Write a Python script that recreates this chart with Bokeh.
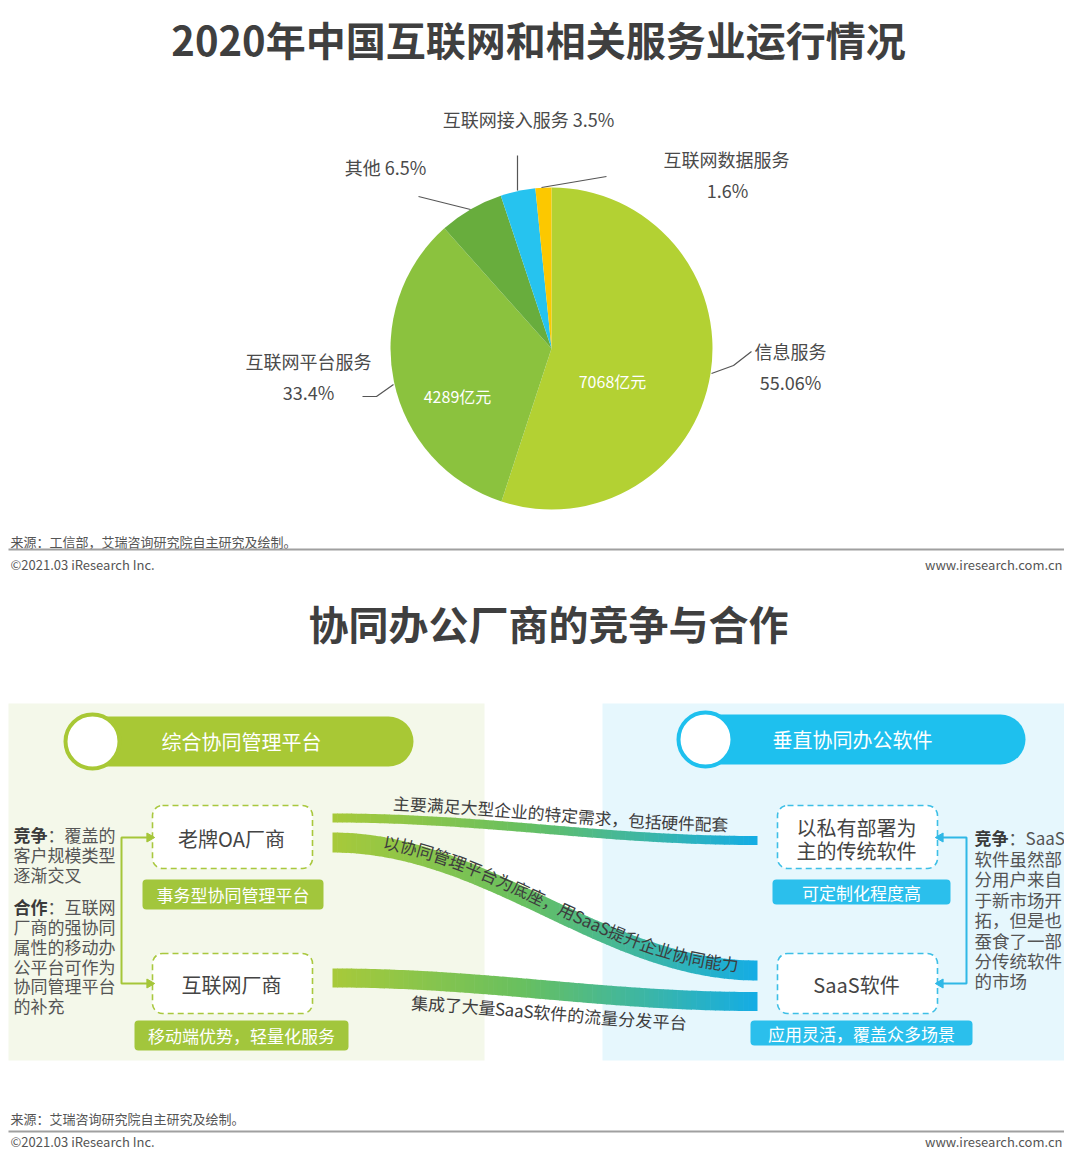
import math
import numpy as np
from bokeh.plotting import figure
from bokeh.models import Range1d
from bokeh.core.properties import value
from bokeh.embed import file_html
from bokeh.resources import INLINE

FONT = "Noto Sans CJK SC"

# ---------------- data ----------------
title1 = "2020年中国互联网和相关服务业运行情况"
title2 = "协同办公厂商的竞争与合作"
pie_labels = ["信息服务", "互联网平台服务", "其他", "互联网接入服务", "互联网数据服务"]
pie_shares = [55.06, 33.4, 6.5, 3.5, 1.6]
pie_amounts = ["7068亿元", "4289亿元", "", "", ""]
pie_colors = ["#b3d133", "#8bc23e", "#68ad3d", "#26c3ef", "#fcc800"]

source1 = "来源：工信部，艾瑞咨询研究院自主研究及绘制。"
source2 = "来源：艾瑞咨询研究院自主研究及绘制。"
copyright_txt = "©2021.03 iResearch Inc."
site_txt = "www.iresearch.com.cn"

left_header = "综合协同管理平台"
right_header = "垂直协同办公软件"
left_boxes = ["老牌OA厂商", "互联网厂商"]
left_tags = ["事务型协同管理平台", "移动端优势，轻量化服务"]
right_boxes = [["以私有部署为", "主的传统软件"], ["SaaS软件"]]
right_tags = ["可定制化程度高", "应用灵活，覆盖众多场景"]
left_notes_comp = ["竞争", "：覆盖的", "客户规模类型", "逐渐交叉"]
left_notes_coop = ["合作", "：互联网", "厂商的强协同", "属性的移动办", "公平台可作为", "协同管理平台", "的补充"]
right_notes = ["竞争", "：SaaS", "软件虽然部", "分用户来自", "于新市场开", "拓，但是也", "蚕食了一部", "分传统软件", "的市场"]
flow_texts = ["主要满足大型企业的特定需求，包括硬件配套",
              "以协同管理平台为底座，用SaaS提升企业协同能力",
              "集成了大量SaaS软件的流量分发平台"]

# ---------------- figure ----------------
W, H = 1064, 1151
p = figure(width=W, height=H, x_range=Range1d(0, W), y_range=Range1d(-H, 0),
           output_backend="svg", toolbar_location=None, min_border=0)
p.axis.visible = False
p.grid.visible = False
p.outline_line_color = None
p.background_fill_color = "white"


def txt(x, y, s, size, color="#444444", align="left", bold=False, angle=0.0, baseline="middle"):
    p.text(x=[x], y=[-y], text=[s], text_font=value(FONT), text_font_size=f"{size}px",
           text_color=color, text_align=align, text_baseline=baseline,
           text_font_style="bold" if bold else "normal", angle=angle)


def seg(pts, color="#555555", width=1.2):
    p.line(x=[a for a, b in pts], y=[-b for a, b in pts], line_color=color, line_width=width)


# ---------------- titles ----------------
txt(538, 38, title1, 40, color="#3f3f3f", align="center", bold=True)
txt(548, 622, title2, 40, color="#3f3f3f", align="center", bold=True)

# ---------------- pie ----------------
cx, cy, R = 551, 348, 161
vals = np.array(pie_shares, dtype=float)
tot = vals.sum()
cum = np.cumsum(vals)
starts = math.pi / 2 - 2 * math.pi * (cum - vals) / tot
ends = math.pi / 2 - 2 * math.pi * cum / tot
p.wedge(x=cx, y=-cy, radius=R, start_angle=list(starts), end_angle=list(ends), direction="clock",
        fill_color=pie_colors, line_color=None)

# inner amounts
amount_pos = [(612, 380), (457, 395)]
for (ax, ay), a in zip(amount_pos, pie_amounts[:2]):
    txt(ax, ay, a, 16, color="white", align="center")

# outer labels
LC = "#4a4a4a"
pct = [f"{v}%" for v in pie_shares]
txt(790, 350, pie_labels[0], 18, LC, "center")
txt(790, 381, pct[0], 18, LC, "center")
txt(308, 360, pie_labels[1], 18, LC, "center")
txt(308, 391, pct[1], 18, LC, "center")
txt(385, 166, pie_labels[2] + " " + pct[2], 18, LC, "center")
txt(528, 118, pie_labels[3] + " " + pct[3], 18, LC, "center")
txt(726, 158, pie_labels[4], 18, LC, "center")
txt(727, 189, pct[4], 18, LC, "center")
seg([(711, 373), (733, 365), (751, 351)])
seg([(362, 396), (376, 396), (393, 384)])
seg([(418, 196), (470, 209)])
seg([(517, 155), (517, 190)])
seg([(541, 187), (606, 176)])

# ---------------- footers ----------------
def footer(y_src, y_line, y_copy, src):
    txt(10, y_src, src, 13, "#555555")
    p.line(x=[8, W], y=[-y_line, -y_line], line_color="#a0a0a0", line_width=2)
    txt(10, y_copy, copyright_txt, 13, "#555555")
    txt(1062, y_copy, site_txt, 13, "#555555", align="right")

footer(541, 549, 564, source1)
footer(1118, 1131, 1141, source2)

# ---------------- panels ----------------
p.quad(left=8, right=484, top=-703, bottom=-1060, fill_color="#f4f8ea", line_color=None)
p.quad(left=602, right=W, top=-703, bottom=-1060, fill_color="#e6f7fd", line_color=None)

GREEN = "#a8c835"
CYAN = "#1ec0ee"

# header pills
p.rect(x=(80 + 413) / 2, y=-741, width=413 - 80, height=50, fill_color=GREEN, line_color=None,
       border_radius=25)
p.circle(x=92, y=-741, radius=27, fill_color="white", line_color=GREEN, line_width=4)
txt(241, 741, left_header, 20, "white", "center")
p.rect(x=(690 + 1025) / 2, y=-739, width=1025 - 690, height=50, fill_color=CYAN, line_color=None,
       border_radius=25)
p.circle(x=705, y=-739, radius=27, fill_color="white", line_color=CYAN, line_width=4)
txt(852, 739, right_header, 20, "white", "center")

# dashed boxes
BOX_L = [(152, 312, 805, 868), (152, 312, 953, 1013)]
BOX_R = [(777, 937, 805, 868), (777, 937, 953, 1013)]
for (x0, x1, y0, y1) in BOX_L:
    p.rect(x=(x0 + x1) / 2, y=-(y0 + y1) / 2, width=x1 - x0, height=y1 - y0, fill_color="white",
           line_color="#a9c83e", line_dash="6 4", line_width=1.6, border_radius=10)
for (x0, x1, y0, y1) in BOX_R:
    p.rect(x=(x0 + x1) / 2, y=-(y0 + y1) / 2, width=x1 - x0, height=y1 - y0, fill_color="white",
           line_color="#3dbfe6", line_dash="6 4", line_width=1.6, border_radius=10)
txt(231, 838, left_boxes[0], 20, "#444444", "center")
txt(231, 984, left_boxes[1], 20, "#444444", "center")
txt(856, 827, right_boxes[0][0], 20, "#444444", "center")
txt(856, 850, right_boxes[0][1], 20, "#444444", "center")
txt(856, 984, right_boxes[1][0], 20, "#444444", "center")

# tags
TAG_L = [(142, 323, 879, 909), (134, 348, 1020, 1050)]
TAG_R = [(772, 950, 879, 904), (750, 972, 1020, 1045)]
for (x0, x1, y0, y1), t in zip(TAG_L, left_tags):
    p.rect(x=(x0 + x1) / 2, y=-(y0 + y1) / 2, width=x1 - x0, height=y1 - y0, fill_color="#a2c63c",
           line_color=None, border_radius=4)
    txt((x0 + x1) / 2, (y0 + y1) / 2, t, 17, "white", "center")
for (x0, x1, y0, y1), t in zip(TAG_R, right_tags):
    p.rect(x=(x0 + x1) / 2, y=-(y0 + y1) / 2, width=x1 - x0, height=y1 - y0, fill_color="#2bbfec",
           line_color=None, border_radius=4)
    txt((x0 + x1) / 2, (y0 + y1) / 2, t, 17, "white", "center")

# left notes
NC = "#555555"
BC = "#3a3a3a"
txt(13, 834, left_notes_comp[0], 17, BC, bold=True)
txt(47, 834, left_notes_comp[1], 17, NC)
txt(13, 854, left_notes_comp[2], 17, NC)
txt(13, 874, left_notes_comp[3], 17, NC)
txt(13, 906, left_notes_coop[0], 17, BC, bold=True)
txt(47, 906, left_notes_coop[1], 17, NC)
for i, line in enumerate(left_notes_coop[2:]):
    txt(13, 926 + i * 19.8, line, 17, NC)

# right notes
txt(974, 837, right_notes[0], 17, BC, bold=True)
txt(1008, 837, right_notes[1], 17, NC)
for i, line in enumerate(right_notes[2:]):
    txt(974, 858 + i * 20.4, line, 17.5, NC)

# brackets
seg([(150, 837), (121, 837), (121, 983), (150, 983)], color="#a5c639", width=2)
p.scatter(x=[149, 149], y=[-837, -983], marker="triangle", size=9, angle=-math.pi / 2,
          fill_color="#a5c639", line_color="#a5c639")
seg([(939, 837), (966, 837), (966, 983), (939, 983)], color="#2fb8e6", width=2)
p.scatter(x=[940, 940], y=[-837, -983], marker="triangle", size=9, angle=math.pi / 2,
          fill_color="#2fb8e6", line_color="#2fb8e6")

# ---------------- flow bands ----------------
X0, X1 = 332, 757
band_left = [817.5, 842, 977.5]
band_right = [840, 970, 1001]
band_th = [9, 20, 19]


def smooth(t):
    t = np.clip(t, 0, 1)
    return (1 - np.cos(np.pi * t)) / 2


def center(x, yl, yr):
    return yl + (yr - yl) * smooth((np.asarray(x) - X0) / (X1 - X0))


stops_t = [0.0, 0.45, 1.0]
stops_c = [(168, 202, 58), (104, 192, 96), (20, 173, 230)]


def grad(t):
    r = np.interp(t, stops_t, [c[0] for c in stops_c])
    g = np.interp(t, stops_t, [c[1] for c in stops_c])
    b = np.interp(t, stops_t, [c[2] for c in stops_c])
    return "#%02x%02x%02x" % (int(r), int(g), int(b))


N = 90
edges = np.linspace(X0, X1, N + 1)
for yl, yr, th in zip(band_left, band_right, band_th):
    xs, ys, cs = [], [], []
    for k in range(N):
        xa, xb = edges[k], edges[k + 1] + (0.6 if k < N - 1 else 0)
        ca, cb = center(xa, yl, yr), center(xb, yl, yr)
        xs.append([xa, xb, xb, xa])
        ys.append([-(ca - th / 2), -(cb - th / 2), -(cb + th / 2), -(ca + th / 2)])
        cs.append(grad((k + 0.5) / N))
    p.patches(xs=xs, ys=ys, fill_color=cs, line_color=None)


def curve_text(s, x_start, yl, yr, offset, size=16, color="#3d3d3d"):
    gx = np.linspace(X0 - 60, X1 + 60, 3000)
    gy = center(gx, yl, yr)
    S = np.concatenate([[0], np.cumsum(np.hypot(np.diff(gx), np.diff(gy)))])
    slope = np.gradient(gy, gx)
    s0 = np.interp(x_start, gx, S)
    w = np.array([size if ord(c) > 255 else size * 0.56 for c in s])
    pos = s0 + np.cumsum(w) - w / 2
    px = np.interp(pos, S, gx)
    py = np.interp(pos, S, gy)
    sl = np.interp(px, gx, slope)
    n = np.sqrt(1 + sl ** 2)
    tx, ty = 1 / n, sl / n
    qx = px + offset * ty
    qy = py - offset * tx
    ang = np.arctan2(-ty, tx)
    p.text(x=list(qx), y=list(-qy), text=list(s), angle=list(ang), text_font=value(FONT),
           text_font_size=f"{size}px", text_color=color, text_align="center", text_baseline="middle")


curve_text(flow_texts[0], 392, band_left[0], band_right[0], 16, size=16.8)
curve_text(flow_texts[1], 382, band_left[1], band_right[1], 6, size=17)
curve_text(flow_texts[2], 412, band_left[2], band_right[2], -22, size=17)

open("out.html", "w").write(file_html(p, INLINE))
